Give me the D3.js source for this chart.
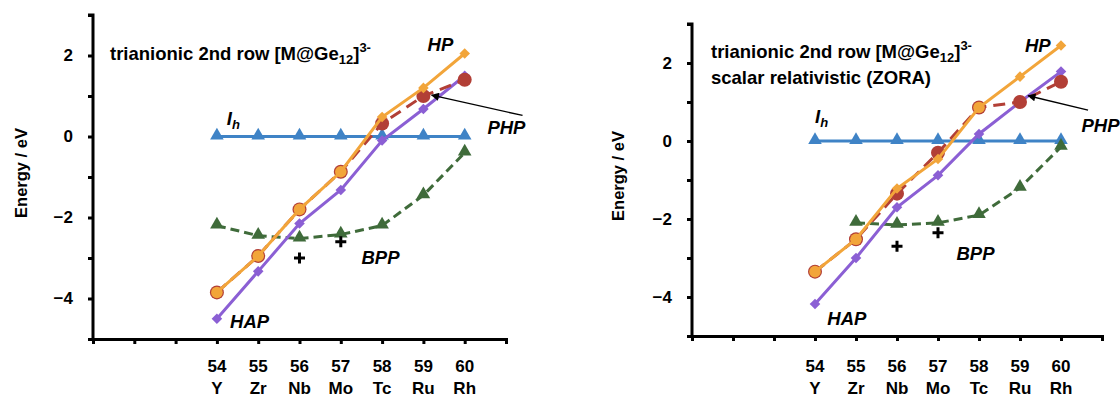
<!DOCTYPE html>
<html>
<head>
<meta charset="utf-8">
<script src="https://cdn.jsdelivr.net/npm/d3@7"></script>
<style>
  body { margin: 0; background: #fff; }
  svg { display: block; font-family: Arial, "Liberation Sans", sans-serif; }
</style>
</head>
<body>
<svg id="chart" width="1120" height="398"></svg>
<script>
// atomic numbers and element symbols on the x axis
const atomicNumbers = [54, 55, 56, 57, 58, 59, 60]
const elements = ['Y', 'Zr', 'Nb', 'Mo', 'Tc', 'Ru', 'Rh']

// left panel: non-relativistic energies (eV)
const leftIh = [0, 0, 0, 0, 0, 0, 0]
const leftHP = [-3.85, -2.95, -1.8, -0.87, 0.48, 1.2, 2.05]
const leftPHP = [-3.85, -2.95, -1.8, -0.87, 0.32, 1.0, 1.4]
const leftHAP = [-4.5, -3.33, -2.15, -1.32, -0.1, 0.68, 1.5]
const leftBPP = [-2.2, -2.45, -2.52, -2.42, -2.2, -1.45, -0.4]
const leftPlus = [[56, -3.0], [57, -2.6]]

// right panel: scalar relativistic (ZORA)
const rightIh = [0, 0, 0, 0, 0, 0, 0]
const rightHP = [-3.35, -2.52, -1.22, -0.46, 0.86, 1.65, 2.45]
const rightPHP = [-3.35, -2.52, -1.35, -0.3, 0.86, 1.0, 1.52]
const rightHAP = [-4.18, -3.0, -1.7, -0.88, 0.18, 1.0, 1.78]
const rightBPP = [null, -2.1, -2.15, -2.1, -1.9, -1.2, -0.15]
const rightPlus = [[56, -2.7], [57, -2.35]]

const colors = {
  Ih: '#3f83c6',
  HP: '#f2a53a',
  PHP: '#b23f36',
  HAP: '#8b5fd4',
  BPP: '#3f6b3a'
}

const panels = [
  {
    x0: 93, x1: 506, y0: 339, y1: 15,
    yTitleX: 27, yTitleY: 173,
    title: { x: 110, y: 60 },
    ih: leftIh, hp: leftHP, php: leftPHP, hap: leftHAP, bpp: leftBPP, plus: leftPlus,
    labels: { Ih: [54.24, 0.28], HP: [59.1, 2.1], PHP: [60.55, 0.05], HAP: [54.32, -4.73], BPP: [57.5, -3.15] },
    arrow: [[61.4, 0.52], [59.2, 1.02]],
    zora: false
  },
  {
    x0: 692, x1: 1102, y0: 336, y1: 24,
    yTitleX: 624, yTitleY: 176,
    title: { x: 711, y: 58 },
    ih: rightIh, hp: rightHP, php: rightPHP, hap: rightHAP, bpp: rightBPP, plus: rightPlus,
    labels: { Ih: [54.0, 0.45], HP: [59.12, 2.28], PHP: [60.5, 0.22], HAP: [54.3, -4.72], BPP: [57.45, -3.06] },
    arrow: [[60.66, 0.79], [59.2, 1.16]],
    zora: true
  }
]

const svg = d3.select('#chart')

svg.append('defs').append('marker')
  .attr('id', 'arrowhead')
  .attr('viewBox', '0 0 10 10')
  .attr('refX', 9).attr('refY', 5)
  .attr('markerWidth', 10).attr('markerHeight', 8)
  .attr('markerUnits', 'userSpaceOnUse')
  .attr('orient', 'auto')
  .append('path').attr('d', 'M0,0 L10,5 L0,10 z').attr('fill', '#000')

panels.forEach(p => {
  const x = d3.scaleLinear().domain([51, 61]).range([p.x0, p.x1])
  const y = d3.scaleLinear().domain([-5, 3]).range([p.y0, p.y1])
  const g = svg.append('g')

  // axes
  const yAxis = d3.axisLeft(y)
    .tickValues(d3.range(-5, 4, 1))
    .tickSize(5)
    .tickPadding(15)
    .tickFormat(d => (d % 2 === 0 && d > -5 && d < 3) ? d3.format('d')(d) : '')
  const yg = g.append('g').attr('transform', `translate(${p.x0},0)`).call(yAxis)

  const xAxis = d3.axisBottom(x)
    .tickValues(d3.range(51, 62, 1))
    .tickSize(5)
    .tickFormat('')
  const xg = g.append('g').attr('transform', `translate(0,${p.y0})`).call(xAxis)

  ;[yg, xg].forEach(a => {
    a.select('.domain').attr('stroke', '#000').attr('stroke-width', 3)
    a.selectAll('.tick line').attr('stroke', '#000').attr('stroke-width', 3)
  })
  yg.select('.domain').attr('d', `M-5,${p.y1}H0V${p.y0}`)
  yg.selectAll('.tick text')
    .attr('font-size', 17).attr('font-weight', 'bold').attr('fill', '#000')
    .attr('font-family', 'Arial, "Liberation Sans", sans-serif')

  // x category labels
  atomicNumbers.forEach((n, i) => {
    g.append('text').attr('x', x(n)).attr('y', 372)
      .attr('text-anchor', 'middle').attr('font-size', 17).attr('font-weight', 'bold')
      .text(n)
    g.append('text').attr('x', x(n)).attr('y', 394)
      .attr('text-anchor', 'middle').attr('font-size', 17).attr('font-weight', 'bold')
      .text(elements[i])
  })

  // y title
  g.append('text')
    .attr('transform', `translate(${p.yTitleX},${p.yTitleY}) rotate(-90)`)
    .attr('text-anchor', 'middle').attr('font-size', 16.5).attr('font-weight', 'bold')
    .text('Energy / eV')

  // title
  const t = g.append('text').attr('x', p.title.x).attr('y', p.title.y)
    .attr('font-size', 18.5).attr('font-weight', 'bold')
  t.append('tspan').text('trianionic 2nd row [M@Ge')
  t.append('tspan').attr('font-size', 13).attr('dy', 4).text('12')
  t.append('tspan').attr('dy', -4).text(']')
  t.append('tspan').attr('font-size', 13).attr('dy', -8).text('3-')
  if (p.zora) {
    g.append('text').attr('x', p.title.x).attr('y', p.title.y + 26)
      .attr('font-size', 18.5).attr('font-weight', 'bold')
      .text('scalar relativistic (ZORA)')
  }

  const line = d3.line()
    .x(d => x(d[0])).y(d => y(d[1]))

  const pts = arr => atomicNumbers.map((n, i) => [n, arr[i]])

  const triangle = d3.symbol().type(d3.symbolTriangle).size(80)
  const diamond = d3.symbol().type(d3.symbolSquare).size(56)

  function series(vals, color, dash, draw) {
    const data = pts(vals).filter(d => d[1] !== null)
    g.append('path').datum(data).attr('d', line)
      .attr('fill', 'none').attr('stroke', color).attr('stroke-width', 3)
      .attr('stroke-dasharray', dash || null)
    draw(data)
  }

  // Ih
  series(p.ih, colors.Ih, null, data => {
    g.selectAll(null).data(data).join('path')
      .attr('transform', d => `translate(${x(d[0])},${y(d[1]) - 1})`)
      .attr('d', triangle).attr('fill', colors.Ih)
  })
  // BPP
  series(p.bpp, colors.BPP, '9,5', data => {
    g.selectAll(null).data(data).join('path')
      .attr('transform', d => `translate(${x(d[0])},${y(d[1]) - 1})`)
      .attr('d', triangle).attr('fill', colors.BPP)
  })
  // HAP
  series(p.hap, colors.HAP, null, data => {
    g.selectAll(null).data(data).join('path')
      .attr('transform', d => `translate(${x(d[0])},${y(d[1])}) rotate(45)`)
      .attr('d', diamond).attr('fill', colors.HAP)
  })
  // PHP
  series(p.php, colors.PHP, '12,7', data => {
    g.selectAll(null).data(data).join('circle')
      .attr('cx', d => x(d[0])).attr('cy', d => y(d[1])).attr('r', 7)
      .attr('fill', colors.PHP)
  })
  // HP: coincides with PHP at the low-Z end, drawn there as an orange disc
  series(p.hp, colors.HP, null, data => {
    data.forEach((d, i) => {
      if (Math.abs(d[1] - p.php[i]) < 0.02) {
        g.append('circle').attr('cx', x(d[0])).attr('cy', y(d[1])).attr('r', 5.8)
          .attr('fill', colors.HP)
      } else {
        g.append('path').attr('transform', `translate(${x(d[0])},${y(d[1])}) rotate(45)`)
          .attr('d', diamond).attr('fill', colors.HP)
      }
    })
  })

  // plus markers
  g.selectAll(null).data(p.plus).join('path')
    .attr('d', d => `M${x(d[0]) - 5.5},${y(d[1])}h11M${x(d[0])},${y(d[1]) - 5.5}v11`)
    .attr('stroke', '#000').attr('stroke-width', 3)

  // series labels
  const lab = (key, text, sub) => {
    const [lx, ly] = p.labels[key]
    const tt = g.append('text').attr('x', x(lx)).attr('y', y(ly))
      .attr('font-size', 18.5).attr('font-weight', 'bold').attr('font-style', 'italic')
    tt.append('tspan').text(text)
    if (sub) tt.append('tspan').attr('font-size', 13).attr('dy', 4).text(sub)
  }
  lab('Ih', 'I', 'h')
  lab('HP', 'HP')
  lab('PHP', 'PHP')
  lab('HAP', 'HAP')
  lab('BPP', 'BPP')

  // arrow pointing to PHP
  g.append('line')
    .attr('x1', x(p.arrow[0][0])).attr('y1', y(p.arrow[0][1]))
    .attr('x2', x(p.arrow[1][0])).attr('y2', y(p.arrow[1][1]))
    .attr('stroke', '#000').attr('stroke-width', 1.4)
    .attr('marker-end', 'url(#arrowhead)')
})
</script>
</body>
</html>
